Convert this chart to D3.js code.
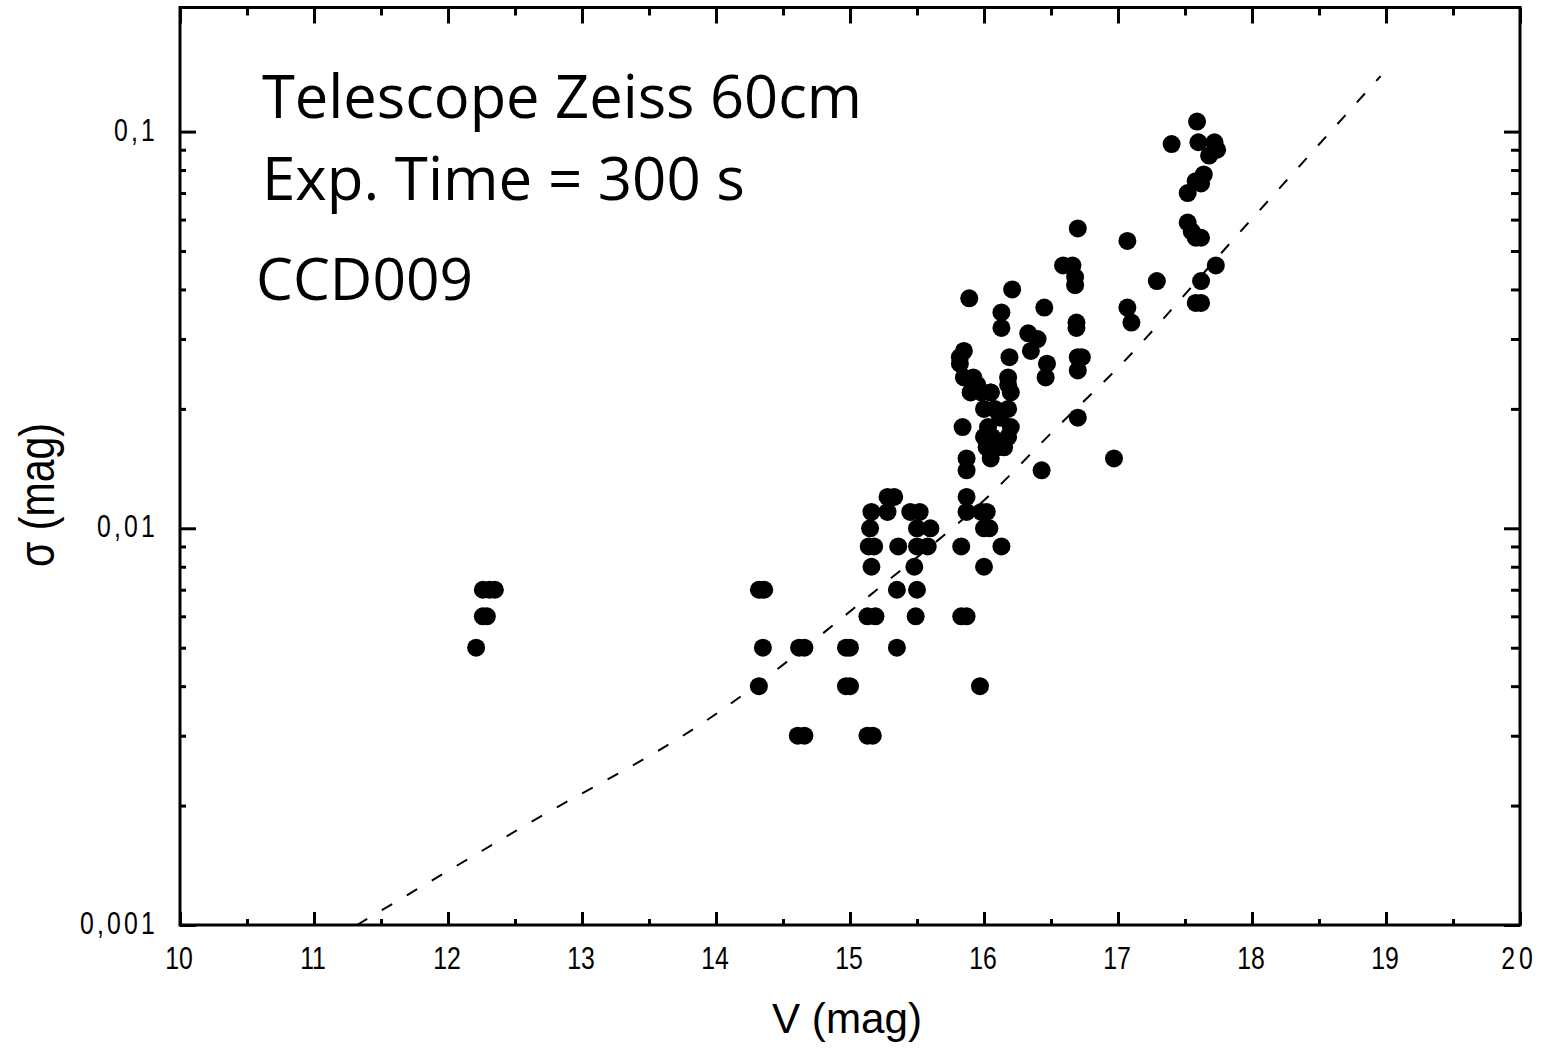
<!DOCTYPE html>
<html><head><meta charset="utf-8">
<script src="https://cdn.jsdelivr.net/npm/d3@7"></script>
<style>
html,body{margin:0;padding:0;background:#fff;}
svg{display:block;}
.tick-label{font-family:"Liberation Sans",Arial,sans-serif;font-size:31px;fill:#000;}
.axis-title{font-family:"Liberation Sans",Arial,sans-serif;fill:#000;}
.note{font-family:"Open Sans","Noto Sans",sans-serif;fill:#000;}
</style>
</head><body>
<svg id="chart" width="1547" height="1048"></svg>
<script>
// ---- data ----
const vMag = [
  12.21,12.26,12.29,12.26,12.31,12.35,
  14.32,14.36,14.35,14.32,14.62,14.66,14.61,14.66,14.97,15.00,14.97,15.00,15.13,15.17,15.35,
  15.13,15.19,15.49,15.35,15.50,15.16,15.48,15.14,15.18,15.36,15.50,15.58,
  15.15,15.50,15.60,15.16,15.28,15.45,15.52,15.28,15.33,
  15.83,15.87,15.83,16.00,16.13,15.97,15.87,15.87,15.98,16.02,16.00,16.04,
  15.87,15.87,15.84,16.43,16.97,
  16.00,16.05,15.98,16.03,16.06,16.10,16.05,16.15,16.18,16.20,16.18,16.20,16.18,
  16.08,16.12,16.02,16.00,15.90,15.92,
  15.82,15.82,15.85,15.85,15.95,16.05,16.18,16.19,16.13,16.13,16.21,15.89,
  16.33,16.40,16.35,16.45,16.47,16.46,
  16.59,16.66,16.68,16.68,16.69,16.69,16.70,16.73,16.70,16.70,16.70,
  17.07,17.07,17.10,17.29,17.40,17.59,17.60,17.72,17.68,17.74,17.64,17.62,
  17.52,17.58,17.52,17.58,17.62,17.55,17.73,17.62,17.58,17.62
];
const sigma = [
  0.005,0.006,0.006,0.007,0.007,0.007,
  0.007,0.007,0.005,0.004,0.005,0.005,0.003,0.003,0.005,0.005,0.004,0.004,0.003,0.003,0.005,
  0.006,0.006,0.006,0.007,0.007,0.008,0.008,0.009,0.009,0.009,0.009,0.009,
  0.010,0.010,0.010,0.011,0.011,0.011,0.011,0.012,0.012,
  0.006,0.006,0.009,0.008,0.009,0.004,0.012,0.011,0.011,0.011,0.010,0.010,
  0.015,0.014,0.018,0.014,0.015,
  0.020,0.022,0.022,0.018,0.017,0.016,0.015,0.016,0.017,0.018,0.020,0.022,0.023,
  0.020,0.019,0.016,0.017,0.022,0.024,
  0.027,0.026,0.028,0.024,0.023,0.022,0.024,0.027,0.035,0.032,0.040,0.038,
  0.031,0.030,0.028,0.036,0.026,0.024,
  0.046,0.046,0.041,0.043,0.033,0.032,0.027,0.027,0.025,0.019,0.057,
  0.053,0.036,0.033,0.042,0.093,0.106,0.094,0.094,0.087,0.090,0.078,0.074,
  0.070,0.075,0.059,0.054,0.054,0.056,0.046,0.042,0.037,0.037
];
// dotted reference curve, points read along it
const fitV     = [11.32, 12.61, 13.93, 15.24, 16.05, 16.51, 17.00, 17.90, 18.96];
const fitSigma = [0.0010, 0.00181, 0.00328, 0.00718, 0.0122, 0.0175, 0.0254, 0.0553, 0.138];
// ticks
const xTicks = [10,11,12,13,14,15,16,17,18,19,20];
const xTickLabels = ["10","11","12","13","14","15","16","17","18","19","20"];
const yTicks = [0.001,0.01,0.1];
const yTickLabels = ["0,001","0,01","0,1"];
const notes = ["Telescope Zeiss 60cm","Exp. Time = 300 s","CCD009"];

// ---- layout ----
const L=180, R=1520, T=7.5, B=925;
const svg = d3.select("#chart");
const x = d3.scaleLinear().domain([10,20]).range([L,R]);
const y = d3.scaleLog().domain([0.001,0.2055]).range([B,T]);

const xMinor = d3.range(10.5,20,1);
const yMinor = [];
[0.001,0.01].forEach(d=>{ for(let k=2;k<=9;k++) yMinor.push(d*k); });

const g = svg.append("g");

// dotted curve
g.append("path")
  .datum(fitV.map((v,i)=>[v,fitSigma[i]]))
  .attr("fill","none").attr("stroke","#000").attr("stroke-width",2)
  .attr("stroke-dasharray","12,17")
  .attr("d", d3.line().x(d=>x(d[0])).y(d=>y(d[1])).curve(d3.curveMonotoneX));

// points
g.selectAll("circle.pt").data(vMag.map((v,i)=>[v,sigma[i]])).join("circle")
  .attr("class","pt").attr("cx",d=>x(d[0])).attr("cy",d=>y(d[1])).attr("r",9).attr("fill","#000");

// axes (ticks inward)
function styleAxis(sel){ sel.select(".domain").remove(); sel.selectAll("line").attr("stroke","#000").attr("stroke-width",3); sel.selectAll("text").remove(); }
svg.append("g").attr("transform",`translate(0,${B})`)
  .call(d3.axisBottom(x).tickValues(xTicks).tickSize(-13)).call(styleAxis);
svg.append("g").attr("transform",`translate(0,${B})`)
  .call(d3.axisBottom(x).tickValues(xMinor).tickSize(-6)).call(styleAxis);
svg.append("g").attr("transform",`translate(0,${T})`)
  .call(d3.axisTop(x).tickValues(xTicks).tickSize(-16)).call(styleAxis);
svg.append("g").attr("transform",`translate(0,${T})`)
  .call(d3.axisTop(x).tickValues(xMinor).tickSize(-8)).call(styleAxis);
svg.append("g").attr("transform",`translate(${L},0)`)
  .call(d3.axisLeft(y).tickValues(yTicks).tickSize(-16)).call(styleAxis);
svg.append("g").attr("transform",`translate(${L},0)`)
  .call(d3.axisLeft(y).tickValues(yMinor).tickSize(-6)).call(styleAxis);
svg.append("g").attr("transform",`translate(${R},0)`)
  .call(d3.axisRight(y).tickValues(yTicks).tickSize(-16)).call(styleAxis);
svg.append("g").attr("transform",`translate(${R},0)`)
  .call(d3.axisRight(y).tickValues(yMinor).tickSize(-9)).call(styleAxis);

// frame
svg.append("rect").attr("x",L).attr("y",T).attr("width",R-L).attr("height",B-T)
  .attr("fill","none").attr("stroke","#000").attr("stroke-width",3);

// tick labels (condensed look)
svg.selectAll("text.xt").data(xTicks).join("text").attr("class","tick-label")
  .attr("transform",d=>`translate(${x(d)-1},969) scale(0.8,1)`).attr("text-anchor","middle")
  .attr("letter-spacing",d=>d===20?"5":"0")
  .text((d,i)=>xTickLabels[i]);
svg.selectAll("text.yt").data(yTicks).join("text").attr("class","tick-label")
  .attr("transform",d=>`translate(158,${y(d)+9}) scale(0.8,1)`).attr("text-anchor","end").attr("letter-spacing","4")
  .text((d,i)=>yTickLabels[i]);

function fitWidth(sel, target, base){
  sel.attr("font-size",base);
  const w = sel.node().getComputedTextLength();
  sel.attr("font-size", base*target/w);
}
// axis titles
const xt = svg.append("text").attr("class","axis-title").attr("x",847).attr("y",1033)
  .attr("text-anchor","middle").text("V (mag)");
fitWidth(xt,150,34);
const yt = svg.append("text").attr("class","axis-title")
  .attr("transform","translate(54,495) rotate(-90) scale(1,1.2)").attr("text-anchor","middle").text("σ (mag)");
fitWidth(yt,144,36);

// annotations
const noteX=[262,262,256], noteY=[118,200,300], noteW=[600,483,217];
notes.forEach((t,i)=>{
  const s = svg.append("text").attr("class","note").attr("x",noteX[i]).attr("y",noteY[i]).text(t);
  fitWidth(s,noteW[i],56);
});
</script>
</body></html>
